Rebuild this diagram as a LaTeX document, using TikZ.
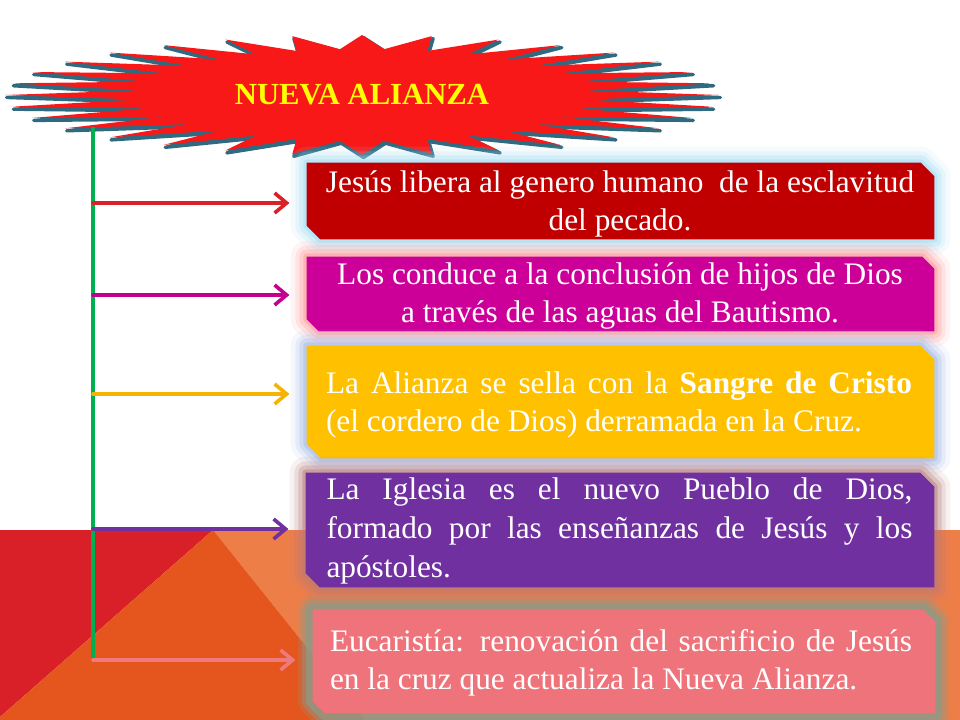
\documentclass[tikz,border=0pt]{standalone}
\usepackage{fontspec}
\setmainfont{Liberation Serif}
\usetikzlibrary{arrows.meta}
\definecolor{bgred}{HTML}{D91F27}
\definecolor{bgorange}{HTML}{E5561E}
\definecolor{bglight}{HTML}{EE7E48}
\definecolor{starred}{HTML}{F81818}
\definecolor{starteal}{HTML}{2F6A80}
\definecolor{titleyellow}{HTML}{FFFF00}
\definecolor{linegreen}{HTML}{00B050}
\definecolor{c1}{HTML}{C00000}
\definecolor{c2}{HTML}{CC0099}
\definecolor{c3}{HTML}{FFC000}
\definecolor{c4}{HTML}{7030A0}
\definecolor{c5}{HTML}{EE737A}
\definecolor{g1}{HTML}{9EDDF5}
\definecolor{g2}{HTML}{FF9696}
\definecolor{g3}{HTML}{9FB8E8}
\definecolor{g4}{HTML}{B87A7A}
\definecolor{g5}{HTML}{8C9A88}
\definecolor{a1}{HTML}{DA2128}
\definecolor{a2}{HTML}{C4008E}
\definecolor{a3}{HTML}{F5B400}
\definecolor{a4}{HTML}{7030A0}
\definecolor{a5}{HTML}{EE7A7E}
\tikzset{
  boxshape/.style={rectangle, inner sep=0pt, draw=none},
  boxtext/.style={text=white, inner sep=0pt, font=\fontsize{23.5}{28.5}\selectfont},
  glow/.style={
    preaction={draw=#1, line width=24pt, opacity=.10, line join=round},
    preaction={draw=#1, line width=17pt, opacity=.18, line join=round},
    preaction={draw=#1, line width=11pt, opacity=.28, line join=round},
    preaction={draw=#1, line width=5pt, opacity=.45, line join=round}},
  glowstrong/.style={
    preaction={draw=#1, line width=22pt, opacity=.20, line join=round},
    preaction={draw=#1, line width=16pt, opacity=.40, line join=round},
    preaction={draw=#1, line width=10pt, opacity=.70, line join=round}},
  conn/.style={draw=#1, line width=2.7pt, line cap=round, shorten >=13pt,
    -{Straight Barb[length=9pt,width=15pt,line width=2.7pt]}},
  greenline/.style={draw=linegreen, line width=2.8pt}
}
\newcommand\snipfill[4]{%
  \fill[#3,#4] (#1.north west) -- ([xshift=-#2]#1.north east) -- ([yshift=-#2]#1.north east)
    -- (#1.south east) -- ([xshift=#2]#1.south west) -- ([yshift=#2]#1.south west) -- cycle;}
\begin{document}
\begin{tikzpicture}[x=0.75pt,y=-0.75pt]
\useasboundingbox (0,0) rectangle (960,720);
\fill[white] (0,0) rectangle (960,720);
% background band
\fill[bglight] (213,530) -- (960,530) -- (960,720) -- (365,720) -- cycle;
\fill[bgred] (0,530) -- (213,530) -- (0,717) -- cycle;
\fill[bgorange] (213,530) -- (365,720) -- (0,720) -- (0,717) -- cycle;
% starburst
\fill[starteal, draw=starteal, line width=2.5pt, line join=round, shift={(1.5,2.5)}]
  (719,95) \foreach \k in {0,...,31} {
    -- ({362+357*cos(\k*11.25)},{95+60*sin(\k*11.25)})
    -- ({362+225*cos(\k*11.25+5.625)},{95+46*sin(\k*11.25+5.625)}) } -- cycle;
\fill[starred]
  (719,95) \foreach \k in {0,...,31} {
    -- ({362+357*cos(\k*11.25)},{95+60*sin(\k*11.25)})
    -- ({362+225*cos(\k*11.25+5.625)},{95+46*sin(\k*11.25+5.625)}) } -- cycle;
\node[text=titleyellow, inner sep=0pt, font=\fontsize{23}{27}\selectfont\bfseries] (title) at (362,95) {NUEVA ALIANZA};
% box shapes
\node[boxshape, minimum width=470.25pt, minimum height=57pt] (b1) at (620.5,201) {};
\node[boxshape, minimum width=470.25pt, minimum height=55.5pt] (b2) at (620.5,294) {};
\node[boxshape, minimum width=470.25pt, minimum height=84pt] (b3) at (620.5,402) {};
\node[boxshape, minimum width=471pt, minimum height=85.5pt] (b4) at (620,530) {};
\node[boxshape, minimum width=466.5pt, minimum height=77.25pt] (b5) at (624,661.5) {};
\snipfill{b1}{10pt}{fill=c1}{glow=g1}
\snipfill{b2}{9pt}{fill=c2}{glow=g2}
\snipfill{b3}{10.5pt}{fill=c3}{glow=g3}
\snipfill{b4}{10.5pt}{fill=c4}{glow=g4}
\snipfill{b5}{9pt}{fill=c5}{glowstrong=g5}
% texts
\node[boxtext, align=center] (t1) at (620,204) {Jesús libera al genero humano \ de la esclavitud\\del pecado.};
\node[boxtext, align=center] (t2) at (620,296) {Los conduce a la conclusión de hijos de Dios\\a través de las aguas del Bautismo.};
\node[boxtext, text width=439.5pt, align=justify] (t3) at (619,405) {La Alianza se sella con la \textbf{Sangre de Cristo} \linebreak (el cordero de Dios) derramada en la Cruz.};
\node[boxtext, text width=439.5pt, align=justify, font=\fontsize{23.5}{29.5}\selectfont] (t4) at (619.5,531) {La Iglesia es el nuevo Pueblo de Dios, \linebreak formado por las enseñanzas de Jesús y los \linebreak apóstoles.};
\node[boxtext, text width=436.5pt, align=justify] (t5) at (621,663) {Eucaristía: renovación del sacrificio de Jesús \linebreak en la cruz que actualiza la Nueva Alianza.};
% green line and arrows
\coordinate (gtop) at (93,127);
\coordinate (gbot) at (93,661);
\coordinate (s1) at (93,203);
\coordinate (s2) at (93,295);
\coordinate (s3) at (93,394);
\coordinate (s4) at (93,529);
\coordinate (s5) at (93,660);
\draw[greenline] (gtop) -- (gbot);
\draw[conn=a1] (s1) -- (s1 -| b1.west);
\draw[conn=a2] (s2) -- (s2 -| b2.west);
\draw[conn=a3] (s3) -- (s3 -| b3.west);
\draw[conn=a4] (s4) -- (s4 -| b4.west);
\draw[conn=a5] (s5) -- (s5 -| b5.west);
\end{tikzpicture}
\end{document}
